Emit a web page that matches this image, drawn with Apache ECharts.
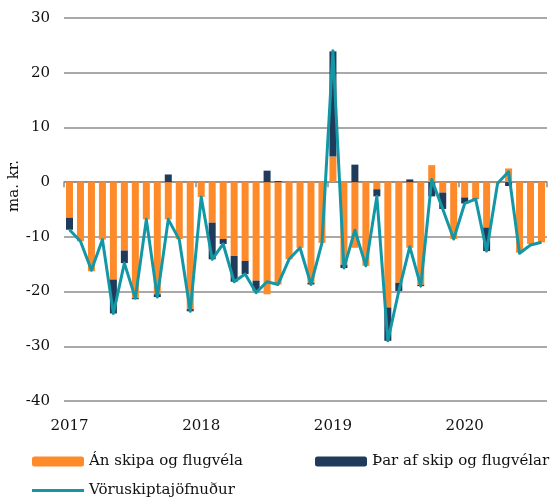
<!DOCTYPE html>
<html><head><meta charset="utf-8">
<script src="https://cdn.jsdelivr.net/npm/echarts@6/dist/echarts.min.js"></script>
<style>html,body{margin:0;padding:0;background:#fff}#c{width:555px;height:501px}</style>
</head><body><div id="c"></div>
<script>
const months = [
 '2017-01','2017-02','2017-03','2017-04','2017-05','2017-06','2017-07','2017-08','2017-09','2017-10','2017-11','2017-12',
 '2018-01','2018-02','2018-03','2018-04','2018-05','2018-06','2018-07','2018-08','2018-09','2018-10','2018-11','2018-12',
 '2019-01','2019-02','2019-03','2019-04','2019-05','2019-06','2019-07','2019-08','2019-09','2019-10','2019-11','2019-12',
 '2020-01','2020-02','2020-03','2020-04','2020-05','2020-06','2020-07','2020-08'
];
const yearLabels = ['2017','2018','2019','2020'];
const anSkipa = [
 -6.5,-10.8,-16.3,-10.5,-17.8,-12.5,-21.2,-6.8,-20.5,-6.8,-10.4,-23.2,
 -2.7,-7.4,-10.4,-13.5,-14.4,-18.0,-20.5,-18.7,-14.1,-12.0,-18.4,-11.1,
 4.7,-15.1,-12.0,-15.3,-1.3,-22.9,-18.4,-12.0,-18.8,3.1,-1.9,-10.4,
 -2.8,-3.0,-8.3,-0.2,2.5,-12.9,-11.3,-11.0
];
const skipFlug = [
 -2.2,0,0,0,-6.2,-2.3,-0.2,0,-0.5,1.4,0,-0.4,
 0,-6.7,-0.9,-4.7,-2.4,-1.9,2.1,0.2,0,0,-0.3,0,
 19.2,-0.6,3.2,0,-1.3,-6.1,-1.5,0.5,-0.2,-2.6,-3.0,0,
 -1.1,-0.1,-4.3,0,-0.7,0,0,0
];
const jofnudur = [
 -8.7,-10.8,-16.1,-10.5,-24.0,-14.8,-21.2,-6.8,-21.0,-6.8,-10.5,-23.6,
 -2.7,-14.1,-11.3,-18.2,-16.8,-20.2,-18.2,-18.7,-14.1,-12.0,-18.7,-11.1,
 24.0,-15.7,-8.8,-15.3,-2.6,-29.0,-19.9,-11.8,-19.0,0.5,-4.9,-10.4,
 -3.9,-3.1,-12.6,-0.2,1.9,-13.0,-11.5,-11.0
];
const names = ['Án skipa og flugvéla','Þar af skip og flugvélar','Vöruskiptajöfnuður'];

const FONT = 'DejaVu Serif';
const chart = echarts.init(document.getElementById('c'), null, {renderer:'canvas'});
const legendBase = {
  orient:'horizontal', itemWidth:52, itemHeight:10, itemGap:10,
  textStyle:{fontFamily:FONT, fontSize:15, color:'#111'}
};
chart.setOption({
  animation:false,
  backgroundColor:'#fff',
  grid:{left:64, right:8, top:18, bottom:100},
  legend:[
    Object.assign({}, legendBase, {data:[names[0]], left:27, top:449}),
    Object.assign({}, legendBase, {data:[names[1]], left:310, top:449}),
    Object.assign({}, legendBase, {data:[{name:names[2], icon:'rect'}], itemHeight:3, left:27, top:478})
  ],
  graphic:[{
    type:'text', x:14, y:186, rotation:Math.PI/2,
    style:{text:'ma. kr.', fontFamily:FONT, fontSize:15, fill:'#111', align:'center', verticalAlign:'middle'}
  }],
  xAxis:[
    {type:'category', data:months, boundaryGap:true,
     axisLine:{onZero:true, lineStyle:{color:'#8c8c8c', width:1.5}},
     axisTick:{show:true, interval:(i)=> i%12===0, length:5, lineStyle:{color:'#8c8c8c', width:1.5}},
     axisLabel:{show:false}, splitLine:{show:false}},
    {type:'category', data:months, boundaryGap:true, position:'bottom',
     axisLine:{show:false}, axisTick:{show:false}, splitLine:{show:false},
     axisLabel:{show:true, interval:(i)=> i%12===0, margin:18,
       formatter:(v,i)=> yearLabels[Math.floor(i/12)],
       fontFamily:FONT, fontSize:15, color:'#111'}}
  ],
  yAxis:{type:'value', min:-40, max:30, interval:10,
    axisLine:{show:false}, axisTick:{show:false},
    splitLine:{lineStyle:{color:'#8c8c8c', width:1.5}},
    axisLabel:{fontFamily:FONT, fontSize:15, color:'#111', margin:14}},
  series:[
    {name:names[0], type:'bar', stack:'a', data:anSkipa, barWidth:7, xAxisIndex:0,
     itemStyle:{color:'#ff8a2a'}},
    {name:names[1], type:'bar', stack:'a', data:skipFlug, barWidth:7, xAxisIndex:0,
     itemStyle:{color:'#1f3a5a'}},
    {name:names[2], type:'line', data:jofnudur, xAxisIndex:0, symbol:'none', z:5,
     lineStyle:{color:'#1497a5', width:3, join:'round'}, itemStyle:{color:'#1497a5'}}
  ]
});
</script></body></html>
